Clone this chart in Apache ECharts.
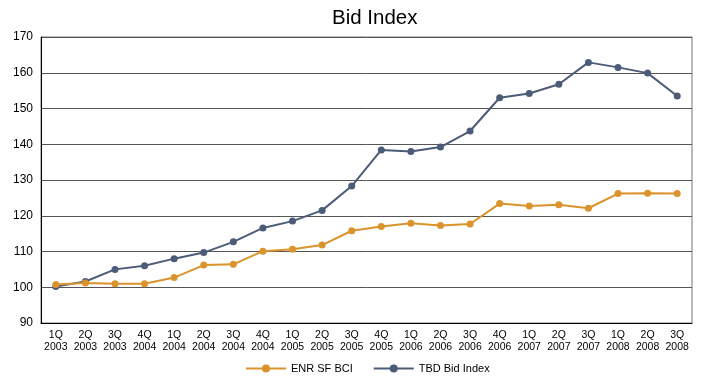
<!DOCTYPE html>
<html>
<head>
<meta charset="utf-8">
<script src="https://cdn.jsdelivr.net/npm/echarts@6/dist/echarts.min.js"></script>
<style>
  html, body { margin: 0; padding: 0; background: #fff; }
  #main { width: 704px; height: 379px; }
</style>
</head>
<body>
<div id="main"></div>
<script>
// 数据
const quarters = ['1Q\n2003', '2Q\n2003', '3Q\n2003', '4Q\n2004', '1Q\n2004', '2Q\n2004', '3Q\n2004', '4Q\n2004',
  '1Q\n2005', '2Q\n2005', '3Q\n2005', '4Q\n2005', '1Q\n2006', '2Q\n2006', '3Q\n2006', '4Q\n2006',
  '1Q\n2007', '2Q\n2007', '3Q\n2007', '1Q\n2008', '2Q\n2008', '3Q\n2008'];
const enrBci = [100.8, 101.2, 101.0, 101.0, 102.7, 106.2, 106.4, 110.1, 110.6, 111.8, 115.8, 117.0,
  117.9, 117.3, 117.7, 123.4, 122.7, 123.1, 122.1, 126.2, 126.3, 126.2];
const tbdBid = [100.2, 101.6, 105.0, 106.0, 108.0, 109.7, 112.7, 116.6, 118.5, 121.5, 128.3, 138.4,
  138.0, 139.2, 143.7, 153.0, 154.2, 156.8, 162.9, 161.5, 159.9, 153.5];

const chartDom = document.getElementById('main');
const myChart = echarts.init(chartDom);
const font = 'Liberation Sans, Arial, sans-serif';

const option = {
  animation: false,
  title: {
    text: 'Bid Index',
    left: 327,
    top: 3,
    textStyle: { fontFamily: font, fontSize: 20.5, fontWeight: 'normal', color: '#000' }
  },
  legend: {
    bottom: 0,
    left: 240,
    itemWidth: 40,
    itemHeight: 10,
    itemGap: 20,
    textStyle: { fontFamily: font, fontSize: 11, color: '#000' },
    data: ['ENR SF BCI', 'TBD Bid Index']
  },
  grid: { left: 41, right: 12, top: 37, bottom: 56, show: true, borderColor: '#777', borderWidth: 1 },
  xAxis: {
    type: 'category',
    data: quarters,
    boundaryGap: true,
    axisLine: { lineStyle: { color: '#000' } },
    axisTick: { show: false },
    axisLabel: { fontFamily: font, fontSize: 10.5, color: '#000', lineHeight: 12, interval: 0, margin: 6 }
  },
  yAxis: {
    type: 'value',
    min: 90,
    max: 170,
    interval: 10,
    axisLine: { show: true, lineStyle: { color: '#000' } },
    axisTick: { show: false },
    axisLabel: { fontFamily: font, fontSize: 12, color: '#000', margin: 8 },
    splitLine: { lineStyle: { color: '#555', width: 1 } }
  },
  series: [
    {
      name: 'ENR SF BCI',
      type: 'line',
      data: enrBci,
      symbol: 'circle',
      symbolSize: 7,
      itemStyle: { color: '#DB932C' },
      lineStyle: { color: '#DB932C', width: 2 },
      z: 3
    },
    {
      name: 'TBD Bid Index',
      type: 'line',
      data: tbdBid,
      symbol: 'circle',
      symbolSize: 7,
      itemStyle: { color: '#4B5B78' },
      lineStyle: { color: '#4B5B78', width: 2 },
      z: 2
    }
  ]
};

option && myChart.setOption(option);
</script>
</body>
</html>
